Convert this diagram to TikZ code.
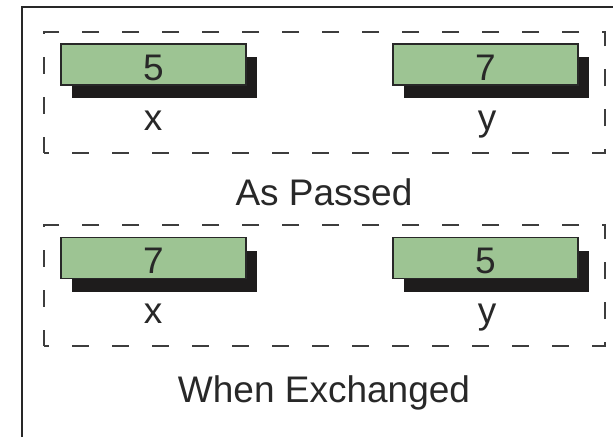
\documentclass[tikz,border=0pt]{standalone}
\usepackage{fontspec}
\setmainfont{Liberation Sans}
\usetikzlibrary{shadows}
\definecolor{boxgreen}{RGB}{157,196,147}
\definecolor{ink}{RGB}{40,40,40}
\definecolor{shade}{RGB}{30,28,28}
\begin{document}
\begin{tikzpicture}[x=1pt,y=-1pt,
  valbox/.style={draw=ink,line width=1.8pt,fill=boxgreen,minimum width=185pt,minimum height=41pt,
    inner sep=0pt,text=ink,font=\fontsize{37}{37}\selectfont,text height=31pt,text depth=0pt,
    general shadow={shadow xshift=11pt,shadow yshift=-13pt,fill=shade,opacity=1}},
  varlabel/.style={anchor=base,inner sep=0pt,text=ink,font=\fontsize{37}{37}\selectfont},
  caption/.style={anchor=base,inner sep=0pt,text=ink,font=\fontsize{37}{37}\selectfont},
  group/.style={draw=ink!90,line width=2.1pt,dash pattern=on 17pt off 23pt,dash phase=12pt,
    minimum width=561pt,minimum height=121pt,inner sep=0pt}]
\useasboundingbox (0,0) rectangle (613,437);
\fill[white] (0,0) rectangle (613,437);
% outer frame (cropped)
\coordinate (fbl) at (22,437);
\coordinate (ftl) at (22,7);
\coordinate (ftr) at (613,7);
\draw[ink,line width=2.2pt] (fbl) -- (ftl) -- (ftr);
% groups
\node[group] (g1) at (324.5,92.5) {};
\node[group] (g2) at (324.5,285.5) {};
% upper: as passed
\node[valbox] (x1) at (153.5,64.5) {5};
\node[valbox] (y1) at (485.5,64.5) {7};
\node[varlabel] (lx1) at (153,130) {x};
\node[varlabel] (ly1) at (487,130) {y};
\node[caption] (c1) at (324,205) {As Passed};
% lower: when exchanged
\node[valbox] (x2) at (153.5,258) {7};
\node[valbox] (y2) at (485.5,258) {5};
\node[varlabel] (lx2) at (153,323) {x};
\node[varlabel] (ly2) at (487,323) {y};
\node[caption] (c2) at (324,402) {When Exchanged};
\end{tikzpicture}
\end{document}
